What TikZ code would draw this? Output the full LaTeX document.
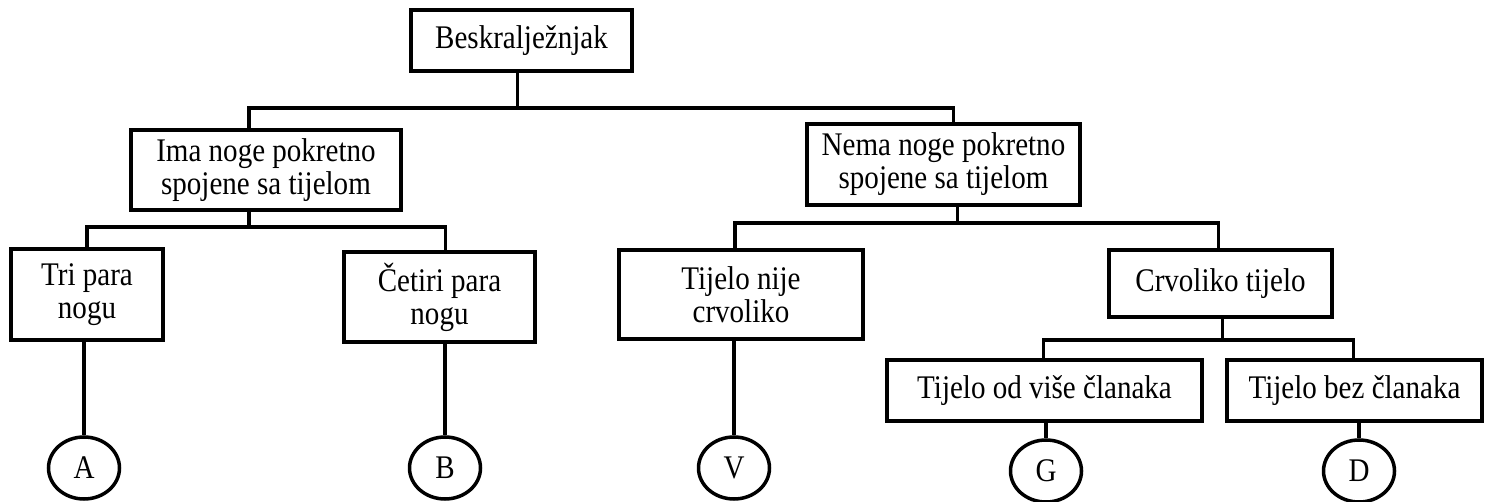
\documentclass[tikz,border=0pt]{standalone}
\usepackage{fontspec}
\setmainfont[FakeStretch=0.88]{Liberation Serif}
\usepackage{tikz}
\usetikzlibrary{shapes.geometric}
\newcommand{\fork}[4] % from, depth of bar, left end, right end
{
	\draw (#1) -- ++(0,#2) coordinate (bar);
	\draw (#3) |- (bar) -| (#4);
}

\begin{document}
\begin{tikzpicture}[x=1pt, y=-1pt, line width=3.5pt,
	box/.style={draw, line width=4pt, rectangle, align=center, inner sep=0pt,
		font=\fontsize{33}{33}\selectfont},
	leaf/.style={draw, line width=3.5pt, ellipse, inner sep=0pt,
		minimum width=71pt, minimum height=62pt, font=\fontsize{33}{33}\selectfont}]
	% page: 1491 x 502
	\useasboundingbox (0,0) rectangle (1491,502);
	
	% boxes
	\node[box, minimum width=221pt, minimum height=61pt] (root) at (521.5,40.5) {Beskralježnjak};
	\node[box, minimum width=270pt, minimum height=80pt] (ima) at (266,170) {Ima noge pokretno\\spojene sa tijelom};
	\node[box, minimum width=273pt, minimum height=81pt] (nema) at (943.5,164.5) {Nema noge pokretno\\spojene sa tijelom};
	\node[box, minimum width=152pt, minimum height=91pt] (tri) at (87,294.5) {Tri para\\nogu};
	\node[box, minimum width=191pt, minimum height=90pt] (cetiri) at (439.5,297) {Četiri para\\nogu};
	\node[box, minimum width=244pt, minimum height=89pt] (nije) at (741,294.5) {Tijelo nije\\crvoliko};
	\node[box, minimum width=223pt, minimum height=67pt] (crv) at (1220.5,283.5) {Crvoliko tijelo};
	\node[box, minimum width=315pt, minimum height=61pt] (vise) at (1044.5,390.5) {Tijelo od više članaka};
	\node[box, minimum width=255pt, minimum height=61pt] (bez) at (1354.5,390.5) {Tijelo bez članaka};
	
	% groups
	\node[leaf] (a) at (84,468) {A};
	\node[leaf] (b) at (445,468) {B};
	\node[leaf] (v) at (734,468) {V};
	\node[leaf] (g) at (1046,471) {G};
	\node[leaf] (d) at (1359,471) {D};
	
	% branches
	\fork{[xshift=-4]root.south}{35}{[xshift=-17]ima.north}{[xshift=10]nema.north};
	\fork{[xshift=-17]ima.south}{15}{tri.north}{[xshift=6]cetiri.north};
	\fork{[xshift=14]nema.south}{16}{[xshift=-6]nije.north}{[xshift=-2]crv.north};
	\fork{[xshift=2]crv.south}{21}{[xshift=-1]vise.north}{[xshift=-1]bez.north};
	
	\draw (a.north |- tri.south) -- (a.north);
	\draw (b.north |- cetiri.south) -- (b.north);
	\draw (v.north |- nije.south) -- (v.north);
	\draw (g.north |- vise.south) -- (g.north);
	\draw (d.north |- bez.south) -- (d.north);
	
\end{tikzpicture}
\end{document}
